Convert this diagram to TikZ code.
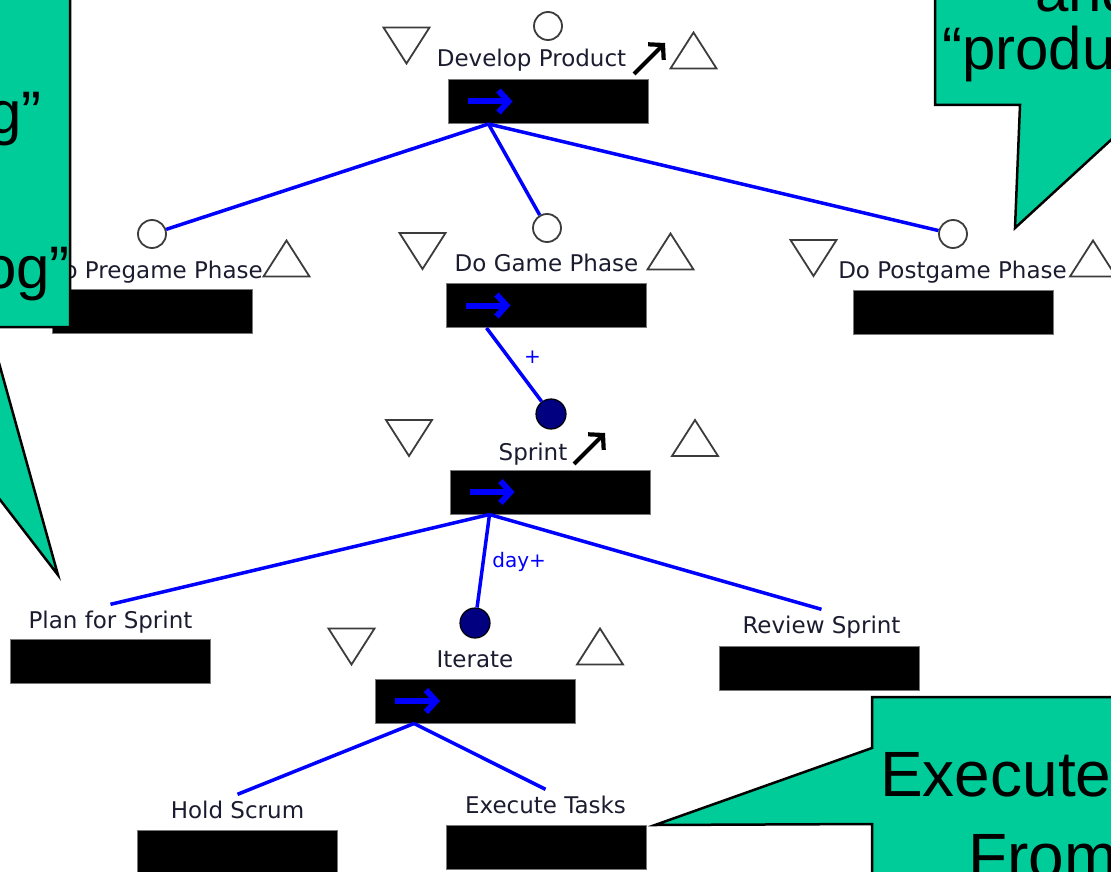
\documentclass[tikz,border=0pt]{standalone}
\usepackage{fontspec}
\usetikzlibrary{arrows.meta}
\newfontfamily\tasklabelfont{DejaVu Sans}
\newfontfamily\calloutfont{Liberation Sans}
\definecolor{calloutgreen}{RGB}{0,204,153}
\definecolor{linkblue}{RGB}{0,0,255}
\definecolor{labelink}{RGB}{28,28,48}
\definecolor{markgray}{RGB}{60,60,60}
\definecolor{repnavy}{RGB}{0,0,128}
\definecolor{boxedge}{RGB}{120,120,120}

\tikzset{
  taskbox/.style={draw=boxedge, line width=1pt, fill=black, minimum width=200pt, minimum height=44pt, inner sep=0pt},
  tasklabel/.style={font=\tasklabelfont\fontsize{23}{27}\selectfont, text=labelink, inner sep=6pt, anchor=base},
  link/.style={draw=linkblue, line width=3.5pt},
  linklabel/.style={font=\tasklabelfont\fontsize{20}{24}\selectfont, text=linkblue, inner sep=0pt},
  opendot/.style={circle, draw=markgray, line width=1.8pt, fill=white, minimum size=28pt, inner sep=0pt},
  repdot/.style={circle, draw=black, line width=1.2pt, fill=repnavy, minimum size=30pt, inner sep=0pt},
  flowarrow/.style={draw=linkblue, line width=6pt, -{Straight Barb[length=10pt,width=22pt]}},
  expandarrow/.style={draw=black, line width=4.2pt, -{Straight Barb[length=10pt,width=22pt]}},
  callout/.style={fill=calloutgreen, draw=black, line width=2.5pt, line join=miter},
  callouttext/.style={font=\calloutfont\fontsize{60}{72}\selectfont, text=black, inner sep=0pt},
  tri/.style={draw=markgray, line width=1.8pt, fill=white, line join=miter},
  tridown/.pic={\draw[tri] (-23,-18) -- (23,-18) -- (0,18) -- cycle;},
  triup/.pic={\draw[tri] (0,-18) -- (23,18) -- (-23,18) -- cycle;},
}

\begin{document}
\begin{tikzpicture}[x=1pt,y=-1pt]
\useasboundingbox (0,0) rectangle (1111,872);
\clip (0,0) rectangle (1111,872);
\fill[white] (0,0) rectangle (1111,872);

% ---- Develop Product ----
\node[taskbox] (dp) at (548,101.5) {};
\node[tasklabel] (dpl) at (531.5,67) {Develop Product};
\node[opendot] (dpo) at (548,26) {};
\pic at (406.5,45.5) {tridown};
\pic at (693.5,50.5) {triup};
\coordinate (dpx1) at (634,74);
\coordinate (dpx2) at (665,43);
\draw[expandarrow] (dpx1) -- (dpx2);
\draw[flowarrow] ([xshift=20pt]dp.west) -- ([xshift=65pt]dp.west);
\coordinate (dpc) at ([xshift=41pt]dp.south west);

% ---- Do Pregame Phase ----
\node[taskbox] (pg) at (152,311.5) {};
\node[tasklabel, anchor=base east, inner sep=0pt] (pgl) at (263,278) {Do Pregame Phase};
\node[opendot] (pgo) at (152,234) {};
\pic at (286.5,258.5) {triup};

% ---- Do Game Phase ----
\node[taskbox] (gp) at (546,305.5) {};
\node[tasklabel] (gpl) at (546.5,271) {Do Game Phase};
\node[opendot] (gpo) at (547,228) {};
\pic at (422.5,251) {tridown};
\pic at (670.5,251.5) {triup};
\draw[flowarrow] ([xshift=20pt]gp.west) -- ([xshift=65pt]gp.west);
\coordinate (gpc) at ([xshift=41pt]gp.south west);

% ---- Do Postgame Phase ----
\node[taskbox] (pp) at (953,312) {};
\node[tasklabel] (ppl) at (952.5,278) {Do Postgame Phase};
\node[opendot] (ppo) at (953,234) {};
\pic at (813.5,258) {tridown};
\pic at (1093,258.5) {triup};

% ---- Sprint ----
\node[taskbox] (sp) at (550,492) {};
\node[tasklabel] (spl) at (533,460) {Sprint};
\node[repdot] (spo) at (551,414) {};
\pic at (409,438) {tridown};
\pic at (695,438) {triup};
\coordinate (spx1) at (574,464);
\coordinate (spx2) at (605,433);
\draw[expandarrow] (spx1) -- (spx2);
\draw[flowarrow] ([xshift=20pt]sp.west) -- ([xshift=65pt]sp.west);
\coordinate (spc) at ([xshift=40pt]sp.south west);

% ---- Plan for Sprint ----
\node[taskbox] (pl) at (110,661) {};
\node[tasklabel] (pll) at (110.5,628) {Plan for Sprint};

% ---- Iterate ----
\node[taskbox] (it) at (475.5,701) {};
\node[tasklabel] (itl) at (475,667) {Iterate};
\node[repdot] (ito) at (475,623) {};
\pic at (351.5,646.5) {tridown};
\pic at (600,646.5) {triup};
\draw[flowarrow] ([xshift=20pt]it.west) -- ([xshift=65pt]it.west);
\coordinate (itc) at ([xshift=39pt]it.south west);

% ---- Review Sprint ----
\node[taskbox] (rv) at (819.5,668) {};
\node[tasklabel] (rvl) at (821.5,633) {Review Sprint};

% ---- Hold Scrum ----
\node[taskbox] (hs) at (237.5,852) {};
\node[tasklabel] (hsl) at (237.5,818) {Hold Scrum};

% ---- Execute Tasks ----
\node[taskbox] (et) at (546,847.5) {};
\node[tasklabel] (etl) at (545.5,813) {Execute Tasks};

% ---- decomposition links ----
\draw[link] (dpc) -- (pgo);
\draw[link] (dpc) -- (gpo);
\draw[link] (dpc) -- (ppo);
\draw[link] (gpc) -- node[linklabel, pos=0.4, xshift=24pt] {+} (spo);
\draw[link] (spc) -- (pll.north);
\draw[link] (spc) -- node[linklabel, pos=0.51, xshift=36pt] {day+} (ito);
\draw[link] (spc) -- (rvl.north);
\draw[link] (itc) -- (hsl.north);
\draw[link] (itc) -- (etl.north);

% ---- callouts ----
\draw[callout] (-200,-50) -- (70,-50) -- (70,327) -- (-11,327) -- (58,575) -- (-133,327) -- (-200,327) -- cycle;
\node[callouttext, anchor=base east] (lc1) at (42,134) {g”};
\node[callouttext, anchor=base east] (lc2) at (70,288) {og”};

\draw[callout] (935,-50) -- (1200,-50) -- (1200,105) -- (1149,105) -- (1015,228) -- (1020,105) -- (935,105) -- cycle;
\node[callouttext, anchor=base west] (rc1) at (1035,12) {and};
\node[callouttext, anchor=base west] (rc2) at (942,70) {“produ};

\draw[callout] (872,697) -- (1200,697) -- (1200,950) -- (872,950) -- (872,824) -- (655,825) -- (872,748) -- cycle;
\node[callouttext, font=\calloutfont\fontsize{64}{76}\selectfont, anchor=base west] (bc1) at (880,796) {Execute};
\node[callouttext, font=\calloutfont\fontsize{64}{76}\selectfont, anchor=base west] (bc2) at (968,878) {From};
\end{tikzpicture}
\end{document}
